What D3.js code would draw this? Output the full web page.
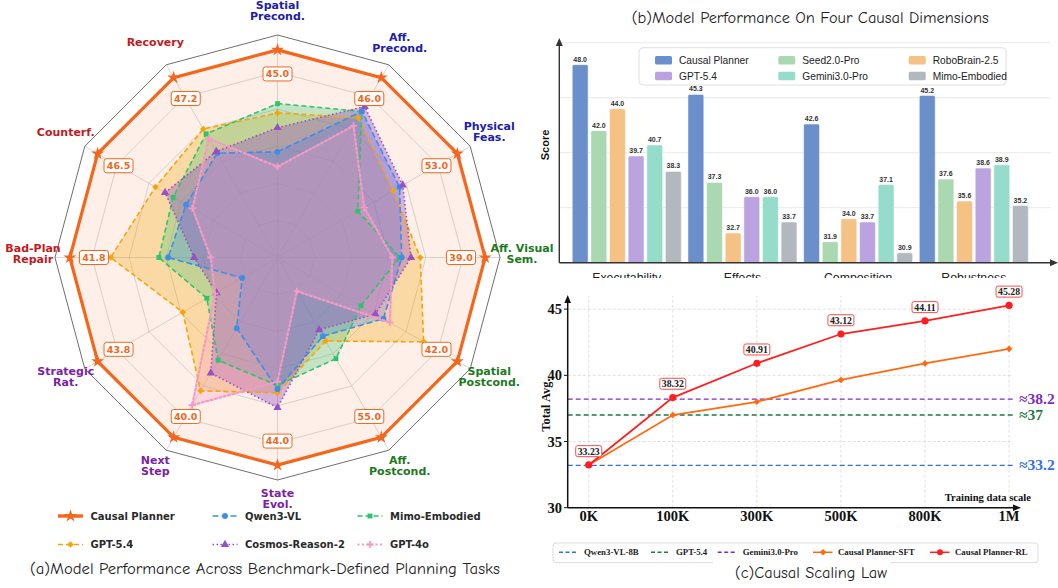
<!DOCTYPE html>
<html>
<head>
<meta charset="utf-8">
<script src="https://cdn.jsdelivr.net/npm/d3@7"></script>
<style>
  body { margin: 0; background: #fff; }
  svg { display: block; }
</style>
</head>
<body>
<div id="chart"></div>
<script>
// ---------- data: (a) radar ----------
const radarAxes = ["Spatial\nPrecond.", "Aff.\nPrecond.", "Physical\nFeas.", "Aff. Visual\nSem.",
  "Spatial\nPostcond.", "Aff.\nPostcond.", "State\nEvol.", "Next\nStep",
  "Strategic\nRat.", "Bad-Plan\nRepair", "Counterf.", "Recovery"];
const axisGroups = ["pre", "pre", "pre", "post", "post", "post", "seq", "seq", "seq", "rob", "rob", "rob"];
const plannerScores = [45.0, 46.0, 53.0, 39.0, 42.0, 55.0, 44.0, 40.0, 43.8, 41.8, 46.5, 47.2];

// normalised radii (1.0 = ring carrying the score boxes)
const plannerRel = [1.12, 1.12, 1.12, 1.12, 1.12, 1.12, 1.12, 1.12, 1.12, 1.12, 1.12, 1.12];
const gpt54Rel   = [0.78, 0.87, 0.72, 0.77, 0.91, 0.52, 0.73, 0.83, 0.59, 0.90, 0.76, 0.80];
const qwenRel    = [0.57, 0.91, 0.76, 0.67, 0.66, 0.49, 0.71, 0.44, 0.22, 0.59, 0.57, 0.65];
const cosmosRel  = [0.70, 0.94, 0.78, 0.72, 0.61, 0.45, 0.81, 0.72, 0.38, 0.45, 0.70, 0.66];
const mimoRel    = [0.83, 0.91, 0.50, 0.66, 0.52, 0.63, 0.69, 0.64, 0.44, 0.64, 0.65, 0.77];
const gpt4oRel   = [0.49, 0.82, 0.54, 0.62, 0.70, 0.21, 0.67, 0.92, 0.39, 0.36, 0.53, 0.74];

const radarModels = ["Causal Planner", "GPT-5.4", "Mimo-Embodied", "Qwen3-VL", "Cosmos-Reason-2", "GPT-4o"];
const radarRings = [0.2, 0.4, 0.6, 0.8, 1.0];

// ---------- data: (b) bars ----------
const dimensions = ["Executability", "Effects", "Composition", "Robustness"];
const barModels = ["Causal Planner", "Seed2.0-Pro", "RoboBrain-2.5", "GPT-5.4", "Gemini3.0-Pro", "Mimo-Embodied"];
const plannerBars = [48.0, 45.3, 42.6, 45.2];
const seedBars    = [42.0, 37.3, 31.9, 37.6];
const roboBars    = [44.0, 32.7, 34.0, 35.6];
const gpt54Bars   = [39.7, 36.0, 33.7, 38.6];
const geminiBars  = [40.7, 36.0, 37.1, 38.9];
const mimoBars    = [38.3, 33.7, 30.9, 35.2];
const barGrid = [35, 40, 45, 50];

// ---------- data: (c) scaling ----------
const scaleLabels = ["0K", "100K", "300K", "500K", "800K", "1M"];
const sftScores = [33.23, 37.0, 38.0, 39.65, 40.9, 42.0];
const rlScores  = [33.23, 38.32, 40.91, 43.12, 44.11, 45.28];
const baselineNames  = ["Qwen3-VL-8B", "GPT-5.4", "Gemini3.0-Pro"];
const baselineScores = [33.2, 37, 38.2];
const yTicksC = [30, 35, 40, 45];

// ---------- styles ----------
const groupColor = { pre: "#2020a8", post: "#1c7a1c", seq: "#7a22a6", rob: "#c41a1e" };
const radarStyle = {
  "Causal Planner":  { color: "#f4661b", dash: null,    width: 3.2, sym: "star",     fill: 0.10 },
  "GPT-5.4":         { color: "#f5a50a", dash: "5,3",   width: 1.6, sym: "diamond",  fill: 0.30 },
  "Qwen3-VL":        { color: "#3d8ee8", dash: "6,3",   width: 1.6, sym: "circle",   fill: 0.32 },
  "Cosmos-Reason-2": { color: "#9650c4", dash: "1.5,2.5", width: 1.6, sym: "triangle", fill: 0.38 },
  "Mimo-Embodied":   { color: "#2fc46b", dash: "5,3",   width: 1.6, sym: "square",   fill: 0.28 },
  "GPT-4o":          { color: "#f59ac4", dash: "2,2.5", width: 2.2, sym: "plus",     fill: 0.30 }
};
const barColors = ["#6b8fca", "#a9d8b1", "#f6c185", "#bba3e0", "#95dccb", "#b3b8bf"];

const radarRel = {
  "Causal Planner": plannerRel, "GPT-5.4": gpt54Rel, "Qwen3-VL": qwenRel,
  "Cosmos-Reason-2": cosmosRel, "Mimo-Embodied": mimoRel, "GPT-4o": gpt4oRel
};
const barTable = [plannerBars, seedBars, roboBars, gpt54Bars, geminiBars, mimoBars];

const W = 1058, H = 588;
const svg = d3.select("#chart").append("svg")
  .attr("width", W).attr("height", H)
  .style("font-family", "'DejaVu Sans', sans-serif");

const comic = "'Comic Sans MS', 'Comic Neue', cursive";

// marker helper
function drawMarker(g, sym, color, x, y) {
  if (sym === "plus") {
    g.append("path").attr("d", `M${x - 3.5},${y}H${x + 3.5}M${x},${y - 3.5}V${y + 3.5}`)
      .attr("stroke", color).attr("stroke-width", 1.8).attr("fill", "none");
    return;
  }
  const types = { star: d3.symbolStar, circle: d3.symbolCircle, square: d3.symbolSquare,
    diamond: d3.symbolSquare, triangle: d3.symbolTriangle };
  const sizes = { star: 52, circle: 26, square: 24, diamond: 22, triangle: 30 };
  g.append("path")
    .attr("d", d3.symbol(types[sym], sizes[sym])())
    .attr("transform", `translate(${x},${y})` + (sym === "diamond" ? " rotate(45)" : ""))
    .attr("fill", color);
}

// ================= (a) radar =================
const cx = 277.5, cy = 257.5;
const rScale = d3.scaleLinear().domain([0, 1.2]).range([0, 222.5]);
const nAx = radarAxes.length;
const ang = i => i * 2 * Math.PI / nAx;
const px = (i, v) => rScale(v) * Math.sin(ang(i));
const py = (i, v) => -rScale(v) * Math.cos(ang(i));
const radar = svg.append("g").attr("transform", `translate(${cx},${cy})`);

const ringLine = d3.lineRadial().angle((d, i) => ang(i)).radius(d => rScale(d)).curve(d3.curveLinearClosed);

// planner area first (peach background)
radar.append("path")
  .attr("d", ringLine(plannerRel))
  .attr("fill", radarStyle["Causal Planner"].color)
  .attr("fill-opacity", radarStyle["Causal Planner"].fill);

// grid
radarRings.forEach(lv => {
  radar.append("path").attr("d", ringLine(d3.range(nAx).map(() => lv)))
    .attr("fill", "none").attr("stroke", "#b8b8b8").attr("stroke-opacity", 0.7).attr("stroke-width", 0.8);
});
d3.range(nAx).forEach(i => {
  radar.append("line").attr("x1", 0).attr("y1", 0).attr("x2", px(i, 1.2)).attr("y2", py(i, 1.2))
    .attr("stroke", "#b8b8b8").attr("stroke-opacity", 0.7).attr("stroke-width", 0.8);
});
radar.append("path").attr("d", ringLine(d3.range(nAx).map(() => 1.2)))
  .attr("fill", "none").attr("stroke", "#6e6e6e").attr("stroke-width", 1);

// other model areas
radarModels.slice(1).forEach(m => {
  const st = radarStyle[m];
  radar.append("path").attr("d", ringLine(radarRel[m]))
    .attr("fill", st.color).attr("fill-opacity", st.fill).attr("stroke", "none");
});
radarModels.slice(1).forEach(m => {
  const st = radarStyle[m];
  radar.append("path").attr("d", ringLine(radarRel[m]))
    .attr("fill", "none").attr("stroke", st.color).attr("stroke-width", st.width)
    .attr("stroke-dasharray", st.dash).attr("stroke-linecap", st.sym === "plus" ? "round" : "butt");
  radarRel[m].forEach((v, i) => drawMarker(radar, st.sym, st.color, px(i, v), py(i, v)));
});

// planner outline on top
const cp = radarStyle["Causal Planner"];
radar.append("path").attr("d", ringLine(plannerRel))
  .attr("fill", "none").attr("stroke", cp.color).attr("stroke-width", cp.width).attr("stroke-linejoin", "miter");
plannerRel.forEach((v, i) => drawMarker(radar, "star", cp.color, px(i, v), py(i, v)));

// score boxes
plannerScores.forEach((s, i) => {
  const x = px(i, 0.99), y = py(i, 0.99);
  radar.append("rect").attr("x", x - 14.5).attr("y", y - 7).attr("width", 29).attr("height", 14)
    .attr("rx", 2.5).attr("fill", "#fff").attr("fill-opacity", 0.92)
    .attr("stroke", cp.color).attr("stroke-width", 1);
  radar.append("text").attr("x", x).attr("y", y + 3.4).attr("text-anchor", "middle")
    .attr("font-size", 9.5).attr("font-weight", "bold").attr("fill", cp.color).text(s.toFixed(1));
});

// axis labels
radarAxes.forEach((lab, i) => {
  const lines = lab.split("\n");
  const x = px(i, 1.2 * 244.5 / 222.5);
  let y = py(i, 1.2 * 244.5 / 222.5) - 3.7;
  if (i === 0) y += 1.5;   // keep the top label inside the page
  const t = radar.append("text").attr("text-anchor", "middle")
    .attr("font-size", 11).attr("font-weight", "bold").attr("fill", groupColor[axisGroups[i]]);
  lines.forEach((ln, k) => {
    t.append("tspan").attr("x", x).attr("y", y + 4 + (k - (lines.length - 1) / 2) * 11).text(ln);
  });
});

// legend (a)
const legA = svg.append("g");
const legAOrder = ["Causal Planner", "Qwen3-VL", "Mimo-Embodied", "GPT-5.4", "Cosmos-Reason-2", "GPT-4o"];
const legACols = [58, 212.5, 357.5], legARows = [516, 544.5];
legAOrder.forEach((m, k) => {
  const st = radarStyle[m];
  const x = legACols[k % 3], y = legARows[Math.floor(k / 3)];
  legA.append("line").attr("x1", x).attr("x2", x + 25).attr("y1", y).attr("y2", y)
    .attr("stroke", st.color).attr("stroke-width", m === "Causal Planner" ? 3.4 : st.width)
    .attr("stroke-dasharray", st.dash);
  drawMarker(legA, st.sym, st.color, x + 12.5, y);
  legA.append("text").attr("x", x + 32.5).attr("y", y + 3.6)
    .attr("font-size", 10).attr("font-weight", "bold").attr("fill", "#2a2a2a").text(m);
});

svg.append("text").attr("x", 265).attr("y", 574).attr("text-anchor", "middle")
  .attr("font-family", comic).attr("font-size", 15).attr("fill", "#222")
  .attr("textLength", 470).attr("lengthAdjust", "spacingAndGlyphs")
  .text("(a)Model Performance Across Benchmark-Defined Planning Tasks");

// ================= (b) bars =================
const bar = svg.append("g").style("font-family", "'Liberation Sans', Arial, sans-serif");
const yB = d3.scaleLinear().domain([30, 50]).range([262.7, 42.7]);
const x0 = d3.scaleBand().domain(dimensions).range([560.7, 1039.9]).paddingInner(0.058).paddingOuter(0.1);
const x1 = d3.scaleBand().domain(barModels).range([0, x0.bandwidth()]).paddingInner(0.15);

barGrid.forEach(v => {
  bar.append("line").attr("x1", 559).attr("x2", 1051).attr("y1", yB(v)).attr("y2", yB(v))
    .attr("stroke", "#e9e9e9").attr("stroke-width", 1);
});

dimensions.forEach((dim, j) => {
  barModels.forEach((m, k) => {
    const v = barTable[k][j];
    const bx = x0(dim) + x1(m);
    bar.append("rect").attr("x", bx).attr("y", yB(v)).attr("width", x1.bandwidth())
      .attr("height", yB(30) - yB(v)).attr("rx", 1.5)
      .attr("fill", barColors[k]).attr("stroke", "#fff").attr("stroke-opacity", 0.6).attr("stroke-width", 0.8);
    bar.append("text").attr("x", bx + x1.bandwidth() / 2).attr("y", yB(v) - 3)
      .attr("text-anchor", "middle").attr("font-size", 7).attr("font-weight", "bold")
      .attr("fill", "#333").text(v.toFixed(1));
  });
  bar.append("text").attr("x", x0(dim) + x0.bandwidth() / 2).attr("y", 281.5)
    .attr("text-anchor", "middle").attr("font-size", 12.3).attr("fill", "#222").text(dim);
});

// axes with arrows
bar.append("line").attr("x1", 559.3).attr("x2", 559.3).attr("y1", 262.7).attr("y2", 43)
  .attr("stroke", "#333").attr("stroke-width", 1.4);
bar.append("path").attr("d", "M559.3,38 L555.8,46 L562.8,46 Z").attr("fill", "#333");
bar.append("line").attr("x1", 559.3).attr("x2", 1052).attr("y1", 262.7).attr("y2", 262.7)
  .attr("stroke", "#333").attr("stroke-width", 1.4);
bar.append("path").attr("d", "M1058,262.7 L1050,259.2 L1050,266.2 Z").attr("fill", "#333");

bar.append("text").attr("transform", "translate(549,145) rotate(-90)").attr("text-anchor", "middle")
  .attr("font-size", 11).attr("font-weight", "bold").attr("fill", "#111").text("Score");

// legend (b)
bar.append("rect").attr("x", 639).attr("y", 47.7).attr("width", 367).attr("height", 37.3).attr("rx", 4)
  .attr("fill", "#fff").attr("fill-opacity", 0.9).attr("stroke", "#e0e0e0");
const legBCols = [655, 778.3, 908.7], legBRows = [60.3, 76];
barModels.forEach((m, k) => {
  const x = legBCols[k % 3], y = legBRows[Math.floor(k / 3)];
  bar.append("rect").attr("x", x).attr("y", y - 4.2).attr("width", 17).attr("height", 8.4).attr("rx", 1.5)
    .attr("fill", barColors[k]);
  bar.append("text").attr("x", x + 24).attr("y", y + 3.6).attr("font-size", 10.2).attr("fill", "#222")
    .text(m);
});

svg.append("text").attr("x", 810.3).attr("y", 22.5).attr("text-anchor", "middle")
  .attr("font-family", comic).attr("font-size", 15.5).attr("fill", "#222")
  .attr("textLength", 357).attr("lengthAdjust", "spacingAndGlyphs")
  .text("(b)Model Performance On Four Causal Dimensions");

// ================= (c) scaling line =================
svg.append("rect").attr("x", 540).attr("y", 278).attr("width", 518).attr("height", 310).attr("fill", "#fff");
const lc = svg.append("g").style("font-family", "'Liberation Serif', 'Times New Roman', serif")
  .attr("font-weight", "bold");
const xC = d3.scaleLinear().domain([-0.25, 5.13]).range([567.7, 1020]);
const yC = d3.scaleLinear().domain([30, 46]).range([507.7, 295.9]);
const xRight = 1013;

// grid
yTicksC.slice(1).forEach(v => {
  lc.append("line").attr("x1", xC(-0.25)).attr("x2", xRight).attr("y1", yC(v)).attr("y2", yC(v))
    .attr("stroke", "#d8d8d8").attr("stroke-width", 0.8).attr("stroke-dasharray", "3,2");
});
scaleLabels.forEach((s, i) => {
  lc.append("line").attr("x1", xC(i)).attr("x2", xC(i)).attr("y1", yC(30)).attr("y2", yC(46))
    .attr("stroke", "#d8d8d8").attr("stroke-width", 0.8).attr("stroke-dasharray", "3,2");
});

// reference lines
const baseColors = ["#2f6fe8", "#1e7a4a", "#7b2fc0"];
baselineScores.forEach((v, k) => {
  lc.append("line").attr("x1", xC(-0.25)).attr("x2", xRight).attr("y1", yC(v)).attr("y2", yC(v))
    .attr("stroke", baseColors[k]).attr("stroke-width", 1.4).attr("stroke-dasharray", "5,3");
  lc.append("text").attr("x", 1019).attr("y", yC(v) + 5).attr("font-size", 15.5)
    .attr("fill", baseColors[k]).text("\u2248" + v);
});

// axes
lc.append("line").attr("x1", 567.7).attr("x2", 567.7).attr("y1", 507.7).attr("y2", 300)
  .attr("stroke", "#111").attr("stroke-width", 1.5);
lc.append("path").attr("d", "M567.7,295 L564.4,303 L571,303 Z").attr("fill", "#111");
lc.append("line").attr("x1", 567.7).attr("x2", 1016).attr("y1", 507.7).attr("y2", 507.7)
  .attr("stroke", "#111").attr("stroke-width", 1.5);
lc.append("path").attr("d", "M1021,507.7 L1013,504.4 L1013,511 Z").attr("fill", "#111");

yTicksC.forEach(v => {
  lc.append("line").attr("x1", 564).attr("x2", 567.7).attr("y1", yC(v)).attr("y2", yC(v))
    .attr("stroke", "#111").attr("stroke-width", 1);
  lc.append("text").attr("x", 562).attr("y", yC(v) + 5).attr("text-anchor", "end")
    .attr("font-size", 14.5).attr("fill", "#111").text(v);
});
scaleLabels.forEach((s, i) => {
  lc.append("text").attr("x", xC(i)).attr("y", 521).attr("text-anchor", "middle")
    .attr("font-size", 14.5).attr("fill", "#111").text(s);
});
lc.append("text").attr("transform", "translate(550,405) rotate(-90)").attr("text-anchor", "middle")
  .attr("font-size", 12.5).attr("fill", "#111").text("Total Avg.");
lc.append("text").attr("x", 1031).attr("y", 501).attr("text-anchor", "end")
  .attr("font-size", 10.6).attr("fill", "#111").text("Training data scale");

// series
const sftColor = "#ff6a10", rlColor = "#ff1f1f";
const lineGen = d3.line().x((d, i) => xC(i)).y(d => yC(d));
lc.append("path").attr("d", lineGen(sftScores)).attr("fill", "none").attr("stroke", sftColor).attr("stroke-width", 1.8);
sftScores.forEach((v, i) => drawMarker(lc, "diamond", sftColor, xC(i), yC(v)));
lc.append("path").attr("d", lineGen(rlScores)).attr("fill", "none").attr("stroke", rlColor).attr("stroke-width", 1.8);
rlScores.forEach((v, i) => {
  lc.append("circle").attr("cx", xC(i)).attr("cy", yC(v)).attr("r", 3.6).attr("fill", rlColor);
  const bx = xC(i), by = yC(v) - 13.8;
  lc.append("rect").attr("x", bx - 13).attr("y", by - 5.5).attr("width", 26).attr("height", 11).attr("rx", 2)
    .attr("fill", "#fff").attr("stroke", "#ff4a4a").attr("stroke-width", 1);
  lc.append("text").attr("x", bx).attr("y", by + 3.4).attr("text-anchor", "middle")
    .attr("font-size", 9.8).attr("fill", "#222").text(v.toFixed(2));
});

// legend (c)
lc.append("rect").attr("x", 553).attr("y", 543).attr("width", 485).attr("height", 19.7).attr("rx", 3)
  .attr("fill", "#fff").attr("stroke", "#dcdcdc");
const legCItems = baselineNames.map((n, k) => ({ name: n, color: baseColors[k], dash: "4,2.5", mk: null }))
  .concat([{ name: "Causal Planner-SFT", color: sftColor, dash: null, mk: "diamond" },
           { name: "Causal Planner-RL", color: rlColor, dash: null, mk: "circle" }]);
const legCX = [559, 651, 717.7, 813, 930];
legCItems.forEach((it, k) => {
  const x = legCX[k], y = 552.3;
  lc.append("line").attr("x1", x).attr("x2", x + 19.5).attr("y1", y).attr("y2", y)
    .attr("stroke", it.color).attr("stroke-width", 1.5).attr("stroke-dasharray", it.dash);
  if (it.mk === "diamond") drawMarker(lc, "diamond", it.color, x + 10, y);
  if (it.mk === "circle") lc.append("circle").attr("cx", x + 10).attr("cy", y).attr("r", 3).attr("fill", it.color);
  lc.append("text").attr("x", x + 25).attr("y", y + 3).attr("font-size", 8.8).attr("fill", "#222").text(it.name);
});

svg.append("rect").attr("x", 713).attr("y", 560).attr("width", 177).attr("height", 28).attr("fill", "#fff");
svg.append("text").attr("x", 811).attr("y", 577.5).attr("text-anchor", "middle")
  .attr("font-family", comic).attr("font-size", 15.5).attr("fill", "#222")
  .attr("textLength", 152).attr("lengthAdjust", "spacingAndGlyphs")
  .text("(c)Causal Scaling Law");
</script>
</body>
</html>
